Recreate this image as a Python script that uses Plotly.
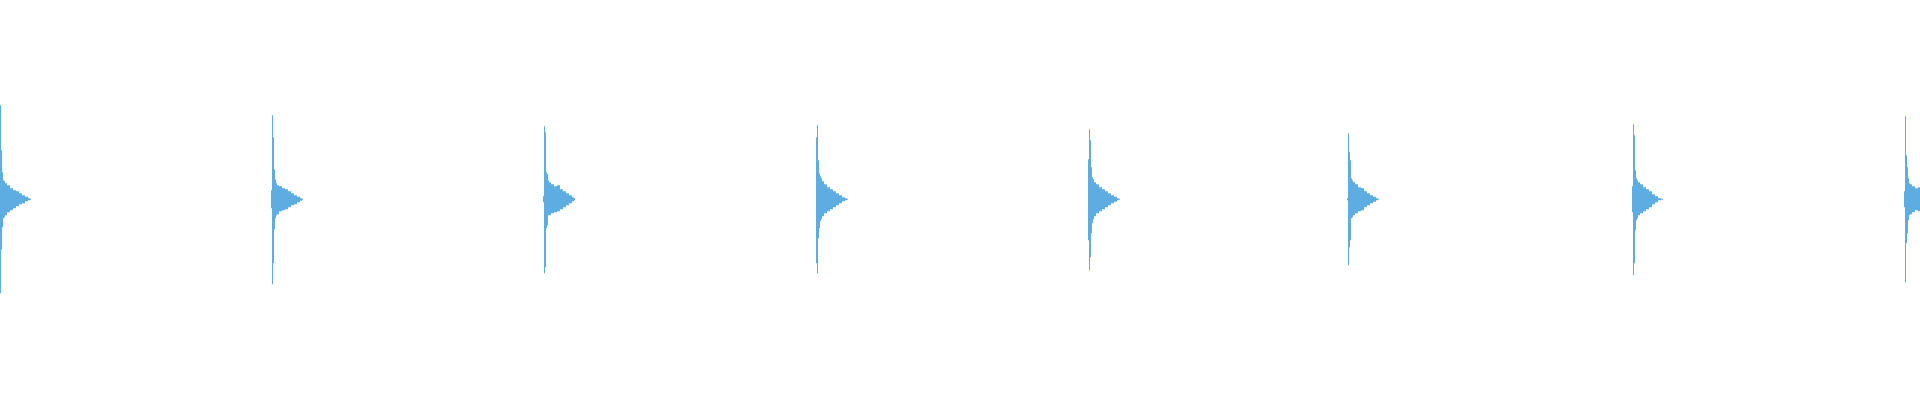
import plotly.graph_objects as go

# waveform: 8 hits, each with a short pre-column, a sharp peak and a decaying tail
hit_starts = [0, 272, 544, 817, 1089, 1348, 1633, 1905]
offsets = [-1, 0, 1, 2, 3, 4, 5, 7, 10, 13, 16, 19, 22, 25, 28, 30, 31]

upper = [
    [0, 94, 49, 27, 19, 18, 16, 14, 11, 9, 8, 6, 4, 2.5, 1, 0.5, 0],
    [9, 84, 62, 30, 20, 16, 14, 13, 11, 10, 8, 6, 4, 2.5, 1, 0.5, 0],
    [3, 73, 67, 27, 25, 19, 17, 15, 13, 14, 10, 8, 6, 4, 2, 1, 0],
    [62, 74, 39, 26, 23, 21, 18, 15, 12, 10, 8, 6, 4, 2, 1, 0.5, 0],
    [40, 70, 59, 32, 22, 20, 17, 15, 12, 10, 8, 6, 4, 2.5, 1, 0.5, 0],
    [1, 66, 47, 39, 21, 19, 17, 15, 12, 11, 8, 6, 4, 2.5, 1, 0.5, 0],
    [13, 75, 64, 29, 21, 19, 17, 15, 12, 10, 8, 5, 3, 1, 0.5, 0, 0],
    [8, 83, 44, 32, 21, 16, 15, 13, 11, 12, 11, 9, 7, 5, 3, 1, 0],
]
lower = [
    [0, -94, -50, -28, -19, -18, -16, -13, -11, -9, -7, -5, -4, -2, -1, -0.5, 0],
    [-9, -85, -64, -30, -19, -16, -15, -12, -11, -10, -8, -6, -5, -3, -1.5, -0.5, 0],
    [-3, -74, -68, -29, -26, -16, -16, -14, -13, -12, -10, -8, -6, -4, -2, -1, 0],
    [-64, -74, -39, -29, -22, -20, -17, -14, -12, -10, -8, -6, -4, -2, -1, -0.5, 0],
    [-41, -71, -58, -34, -24, -20, -17, -14, -12, -10, -8, -6, -4, -2.5, -1, -0.5, 0],
    [-1, -66, -48, -41, -19, -18, -16, -14, -12, -11, -8, -6, -4, -2.5, -1, -0.5, 0],
    [-13, -76, -64, -31, -21, -19, -16, -14, -12, -10, -8, -5, -3, -1, -0.5, 0, 0],
    [-8, -83, -44, -34, -21, -16, -15, -13, -11, -12, -11, -9, -7, -5, -3, -1, 0],
]

x, top, bottom = [], [], []
for start, up, lo in zip(hit_starts, upper, lower):
    for off, u, l in zip(offsets, up, lo):
        x.append(start + off)
        top.append(u)
        bottom.append(l)

color = "#5dade2"
fig = go.Figure()
fig.add_trace(go.Scatter(x=x, y=top, mode="lines",
                         line=dict(width=0, shape="hv", color=color),
                         hoverinfo="skip"))
# fill between the two envelopes in one piece, so no seam shows at zero
fig.add_trace(go.Scatter(x=x, y=bottom, mode="lines", fill="tonexty",
                         fillcolor=color, line=dict(width=0, shape="hv", color=color),
                         hoverinfo="skip"))

fig.update_layout(
    width=1920, height=400,
    margin=dict(l=0, r=0, t=0, b=0),
    paper_bgcolor="white", plot_bgcolor="white",
    showlegend=False,
    xaxis=dict(range=[0, 1920], visible=False, fixedrange=True),
    yaxis=dict(range=[-200.7, 199.3], visible=False, fixedrange=True),
)

# the page's default body margin shifts the plot and adds scrollbars
fig.write_html("out.html", config={"displayModeBar": False},
               post_script="document.body.style.margin='0';document.body.style.overflow='hidden';")
